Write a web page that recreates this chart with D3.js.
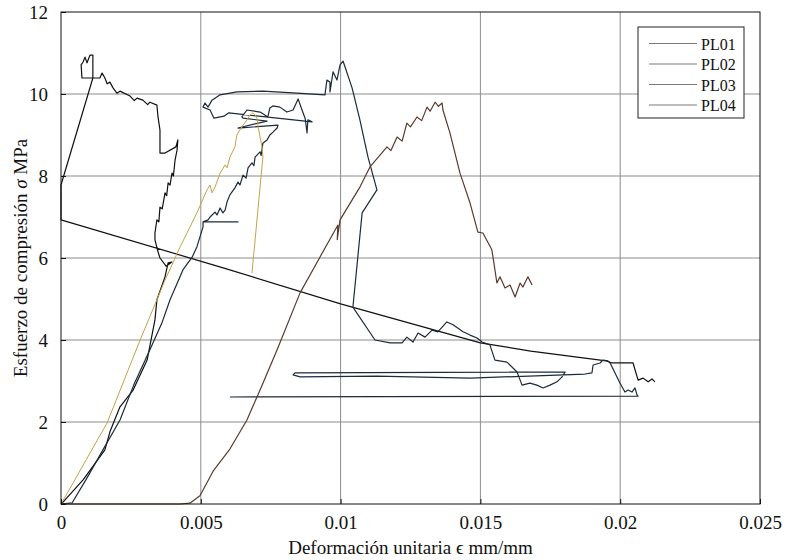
<!DOCTYPE html>
<html>
<head>
<meta charset="utf-8">
<script src="https://cdn.jsdelivr.net/npm/d3@7"></script>
<style>
  html, body { margin: 0; padding: 0; background: #fff; }
  svg { display: block; }
  svg text { font-family: "Liberation Serif", "DejaVu Serif", serif !important; fill: #111; }
</style>
</head>
<body>
<svg id="chart" width="786" height="560"></svg>
<script>
// ---- data (strain mm/mm, stress MPa) ----
const seriesNames = ["PL01", "PL02", "PL03", "PL04"];
const xTicks = [0, 0.005, 0.01, 0.015, 0.02, 0.025];
const xTickLabels = ["0", "0.005", "0.01", "0.015", "0.02", "0.025"];
const yTicks = [0, 2, 4, 6, 8, 10, 12];
const yTickLabels = ["0", "2", "4", "6", "8", "10", "12"];

const pl01 = [[0,0],[0.00004,0.02],[0.00079,0.59],[0.00157,1.32],[0.00175,1.76],[0.00211,2.37],[0.00258,2.78],[0.00308,3.51],[0.00336,4.49],[0.00343,4.98],[0.00372,5.54],[0.00383,5.88],[0.00397,5.90],[0.00376,5.80],[0.00354,6.00],[0.00347,6.15],[0.00336,6.44],[0.00336,6.61],[0.00343,6.93],[0.00350,6.88],[0.00354,7.24],[0.00362,7.20],[0.00372,7.59],[0.00378,7.52],[0.00383,7.83],[0.00390,7.78],[0.00397,8.07],[0.00402,8.00],[0.00408,8.39],[0.00415,8.63],[0.00418,8.88],[0.00411,8.71],[0.00372,8.56],[0.00354,8.56],[0.00354,9.12],[0.00347,9.44],[0.00343,9.73],[0.00318,9.80],[0.00310,9.74],[0.00293,9.85],[0.00272,9.90],[0.00262,9.84],[0.00247,9.95],[0.00211,10.07],[0.00200,10.02],[0.00186,10.15],[0.00175,10.29],[0.00165,10.25],[0.00157,10.39],[0.00147,10.51],[0.00139,10.39],[0.00075,10.39],[0.00072,10.71],[0.00079,10.78],[0.00086,10.90],[0.00093,10.76],[0.00104,10.95],[0.00114,10.95],[0.00114,10.39],[0,7.78],[0,6.93],[0.0058,5.76],[0.01,4.88],[0.015,3.93],[0.0168,3.73],[0.0195,3.49],[0.01971,3.44],[0.02046,3.44],[0.02064,3.02],[0.02082,3.07],[0.021,2.98],[0.02114,3.05],[0.02124,2.98]];

const pl02 = [[0,0],[0.0004,0.03],[0.0009,0.6],[0.0015,1.32],[0.00211,2.05],[0.0026,2.9],[0.00318,3.76],[0.0036,4.4],[0.0039,4.98],[0.00436,5.71],[0.00469,6.02],[0.00486,6.27],[0.00508,6.76],[0.00508,6.88],[0.00633,6.88],[0.00508,6.88],[0.00526,6.93],[0.00533,7.0],[0.00551,7.12],[0.00558,7.05],[0.00569,7.22],[0.00579,7.1],[0.00587,7.17],[0.00594,7.37],[0.00604,7.54],[0.00622,7.71],[0.00633,7.85],[0.0064,7.78],[0.00651,8.02],[0.00662,7.95],[0.00669,8.2],[0.00683,8.32],[0.0069,8.25],[0.00694,8.46],[0.00712,8.59],[0.00716,8.5],[0.00722,8.8],[0.00737,8.88],[0.00747,9.0],[0.00758,9.07],[0.00773,9.17],[0.00776,9.24],[0.00633,9.17],[0.00737,9.34],[0.00651,9.41],[0.00647,9.44],[0.00665,9.61],[0.00712,9.56],[0.0074,9.44],[0.00747,9.66],[0.00758,9.71],[0.00783,9.68],[0.00808,9.56],[0.0083,9.61],[0.00848,9.88],[0.00862,9.61],[0.00873,9.41],[0.0088,9.05],[0.00883,9.37],[0.00898,9.32],[0.0060,9.54],[0.00583,9.46],[0.00547,9.41],[0.00533,9.61],[0.00508,9.68],[0.00515,9.78],[0.00526,9.68],[0.0054,9.85],[0.00569,9.98],[0.00629,10.05],[0.00722,10.07],[0.00844,10.02],[0.00944,9.98],[0.00951,10.34],[0.00962,10.29],[0.00962,10.05],[0.00973,10.54],[0.00987,10.34],[0.00998,10.71],[0.01009,10.8],[0.01041,10.15],[0.01069,9.37],[0.01098,8.46],[0.0113,7.66],[0.01077,7.1],[0.01044,4.8],[0.01123,4.0],[0.01177,3.93],[0.0122,3.93],[0.01237,4.07],[0.01259,3.95],[0.01277,4.17],[0.01302,4.07],[0.01327,4.24],[0.01348,4.2],[0.0138,4.44],[0.01402,4.37],[0.01438,4.2],[0.01463,4.12],[0.01488,4.05],[0.01506,3.95],[0.01534,3.88],[0.01552,3.51],[0.01595,3.46],[0.01631,3.22],[0.01649,2.9],[0.01677,2.95],[0.01702,2.9],[0.01724,2.83],[0.01749,2.9],[0.01774,2.98],[0.01792,3.1],[0.01803,3.22],[0.00837,3.2],[0.0083,3.15],[0.00855,3.1],[0.0113,3.12],[0.01463,3.07],[0.01874,3.17],[0.01899,3.2],[0.01903,3.39],[0.01928,3.44],[0.01938,3.51],[0.01956,3.49],[0.01964,3.44],[0.01981,3.2],[0.01999,2.95],[0.02017,2.73],[0.02028,2.78],[0.02042,2.73],[0.02053,2.83],[0.0206,2.66],[0.02064,2.63],[0.00604,2.61]];

const pl03 = [[0,0],[0.00043,0.51],[0.00165,1.98],[0.00283,4.0],[0.00372,5.46],[0.00426,6.27],[0.00486,7.1],[0.00522,7.66],[0.00533,7.78],[0.0054,7.59],[0.00551,7.73],[0.00569,8.07],[0.00587,8.27],[0.00594,8.2],[0.00604,8.46],[0.00622,8.71],[0.00629,9.0],[0.00647,9.2],[0.00665,9.37],[0.00676,9.49],[0.00687,9.54],[0.00694,9.49],[0.00701,9.41],[0.00705,9.2],[0.00719,8.71],[0.00722,8.46],[0.00683,5.63]];

const pl04 = [[0,0],[0.00426,0],[0.00461,0.02],[0.00497,0.2],[0.00544,0.8],[0.00604,1.34],[0.00665,2.05],[0.00712,2.78],[0.00773,3.76],[0.00855,5.15],[0.00926,6.02],[0.0099,6.8],[0.00988,6.45],[0.00998,6.93],[0.01069,7.73],[0.01105,8.22],[0.01166,8.71],[0.0118,8.62],[0.01202,8.95],[0.0122,8.85],[0.01237,9.29],[0.0125,9.2],[0.01273,9.44],[0.0129,9.35],[0.01309,9.68],[0.0132,9.58],[0.01338,9.8],[0.0135,9.7],[0.01363,9.78],[0.01366,9.61],[0.01391,9.05],[0.01427,8.07],[0.01463,7.34],[0.01491,6.63],[0.01509,6.61],[0.01541,6.2],[0.01552,5.71],[0.01559,5.39],[0.0157,5.54],[0.01588,5.27],[0.01606,5.34],[0.01624,5.05],[0.01642,5.39],[0.01652,5.29],[0.0167,5.54],[0.01685,5.34]];

const seriesData = [pl01, pl02, pl03, pl04];
const seriesColors = ["#111111", "#1d2a3a", "#c4a24a", "#5a3a2e"];
const legendColor = "#7a7a7a";

// ---- layout ----
const svg = d3.select("#chart");
const L = 61, R = 760, T = 12, B = 504;
const x = d3.scaleLinear().domain([0, 0.025]).range([L, R]);
const y = d3.scaleLinear().domain([0, 12]).range([B, T]);
const serif = '"Liberation Serif", "DejaVu Serif", serif';

// grid
const grid = svg.append("g");
grid.selectAll("line.gx").data(xTicks.slice(1, -1)).join("line")
  .attr("x1", d => x(d)).attr("x2", d => x(d)).attr("y1", T).attr("y2", B)
  .attr("stroke", "#8c8c8c").attr("stroke-width", 1);
grid.selectAll("line.gy").data(yTicks.slice(1, -1)).join("line")
  .attr("y1", d => y(d)).attr("y2", d => y(d)).attr("x1", L).attr("x2", R)
  .attr("stroke", "#8c8c8c").attr("stroke-width", 1);

// series
const line = d3.line().x(d => x(d[0])).y(d => y(d[1]));
const plot = svg.append("g");
seriesData.forEach((s, i) => {
  plot.append("path").datum(s)
    .attr("d", line)
    .attr("fill", "none")
    .attr("stroke", seriesColors[i])
    .attr("stroke-width", i === 2 ? 1 : 1.2)
    .attr("stroke-linejoin", "round");
});

// frame
svg.append("rect").attr("x", L).attr("y", T).attr("width", R - L).attr("height", B - T)
  .attr("fill", "none").attr("stroke", "#111").attr("stroke-width", 1);

// axes (ticks inward, labels)
const xAxis = d3.axisBottom(x).tickValues(xTicks).tickSize(-5).tickPadding(12)
  .tickFormat((d, i) => xTickLabels[i]);
const gx = svg.append("g").attr("transform", `translate(0,${B})`).call(xAxis);
const yAxis = d3.axisLeft(y).tickValues(yTicks).tickSize(-5).tickPadding(13)
  .tickFormat((d, i) => yTickLabels[i]);
const gy = svg.append("g").attr("transform", `translate(${L},0)`).call(yAxis);
[gx, gy].forEach(g => {
  g.attr("font-family", null).attr("font-size", null);
  g.select(".domain").remove();
  g.selectAll(".tick line").attr("stroke", "#111");
  g.selectAll(".tick text").style("font-family", serif)
    .style("font-size", "19px").attr("fill", "#111");
});

// axis titles
svg.append("text").attr("x", (L + R) / 2).attr("y", 554).attr("text-anchor", "middle")
  .style("font-family", serif).style("font-size", "19px").text("Deformación unitaria ϵ mm/mm");
const yt = svg.append("text").attr("transform", `translate(27,${(T + B) / 2}) rotate(-90)`)
  .attr("text-anchor", "middle").style("font-family", serif).style("font-size", "19px");
yt.append("tspan").text("Esfuerzo de compresión  ");
yt.append("tspan").attr("font-style", "italic").text("σ");
yt.append("tspan").text(" MPa");

// legend
const lg = svg.append("g");
lg.append("rect").attr("x", 638).attr("y", 27).attr("width", 106).attr("height", 91)
  .attr("fill", "#fff").attr("stroke", "#222").attr("stroke-width", 1);
seriesNames.forEach((n, i) => {
  const yy = 43.5 + i * 20.5;
  lg.append("line").attr("x1", 649).attr("x2", 697).attr("y1", yy).attr("y2", yy)
    .attr("stroke", legendColor).attr("stroke-width", 1.2);
  lg.append("text").attr("x", 701).attr("y", yy + 6)
    .style("font-family", serif).style("font-size", "16px").text(n);
});
</script>
</body>
</html>
